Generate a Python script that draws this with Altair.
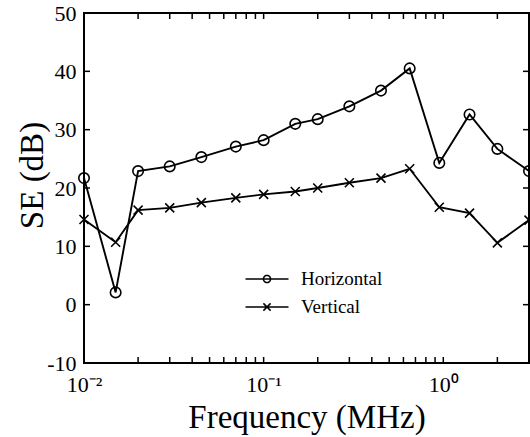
import math
import altair as alt
import pandas as pd

# ---- data ----
freq = [0.01, 0.015, 0.02, 0.03, 0.045, 0.07, 0.1, 0.15, 0.2, 0.3, 0.45, 0.65, 0.95, 1.4, 2, 3]
horizontal = [21.7, 2.1, 22.9, 23.7, 25.3, 27.1, 28.2, 31.0, 31.8, 34.0, 36.7, 40.5, 24.3, 32.6, 26.7, 22.9]
vertical = [14.6, 10.7, 16.2, 16.6, 17.5, 18.3, 18.9, 19.4, 20.0, 20.9, 21.7, 23.3, 16.7, 15.7, 10.6, 14.5]
series_names = ["Horizontal", "Vertical"]
y_ticks = [-10, 0, 10, 20, 30, 40, 50]
x_ticks = [0.01, 0.02, 0.03, 0.04, 0.05, 0.06, 0.07, 0.08, 0.09,
           0.1, 0.2, 0.3, 0.4, 0.5, 0.6, 0.7, 0.8, 0.9, 1, 2, 3]
x_labels = {"0.01": "10⁻²", "0.1": "10⁻¹", "1": "10⁰"}
x_min, x_max = 0.01, 3
y_min, y_max = -10, 50

df = pd.DataFrame({
    "f": freq + freq,
    "se": horizontal + vertical,
    "s": [series_names[0]] * len(freq) + [series_names[1]] * len(freq),
})

FONT = "Liberation Serif"
xscale = alt.Scale(type="log", domain=[x_min, x_max], nice=False)
yscale = alt.Scale(domain=[y_min, y_max], nice=False, zero=False)

label_expr = " : ".join(
    f"datum.value == {k} ? '{v}'" for k, v in x_labels.items()
) + " : ''"

X_PATH = "M-1,-1L1,1M-1,1L1,-1"

# legend symbols (unit = sqrt(symbolSize)/2 px)
def circle_path(r, n=20):
    pts = [(r * math.cos(2 * math.pi * i / n), r * math.sin(2 * math.pi * i / n)) for i in range(n)]
    return "M" + "L".join(f"{x:.3f},{y:.3f}" for x, y in pts) + "Z"

L = 2.15
leg_h = f"M-{L},0L{L},0" + circle_path(0.36)
leg_v = f"M-{L},0L{L},0M-0.36,-0.36L0.36,0.36M-0.36,0.36L0.36,-0.36"

x_bottom = alt.Axis(orient="bottom", values=x_ticks, labelExpr=label_expr,
                    title="Frequency (MHz)", labelFlush=False, labelOverlap=False,
                    domain=False, grid=False, ticks=False,
                    labelPadding=11, titleY=64, titleBaseline="alphabetic")
y_left = alt.Axis(orient="left", values=y_ticks, labelExpr="datum.value + ''",
                  title="SE (dB)", labelPadding=8, titleX=-42, titleY=162,
                  domain=False, grid=False, ticks=False,
                  titleAngle=270, titleAlign="center", titleBaseline="alphabetic",
                  labelOverlap=False)

base = alt.Chart(df)

lines = base.mark_line(color="black", strokeWidth=1.9).encode(
    x=alt.X("f:Q", scale=xscale, axis=x_bottom),
    y=alt.Y("se:Q", scale=yscale, axis=y_left),
    detail="s:N",
)

circles = base.transform_filter(alt.datum.s == series_names[0]).mark_point(
    color="black", filled=False, strokeWidth=1.6, size=110, opacity=1, shape="circle"
).encode(
    x=alt.X("f:Q", scale=xscale, axis=None),
    y=alt.Y("se:Q", scale=yscale, axis=None),
)

crosses = base.transform_filter(alt.datum.s == series_names[1]).mark_point(
    color="black", filled=False, strokeWidth=1.6, size=81, opacity=1, shape=X_PATH
).encode(
    x=alt.X("f:Q", scale=xscale, axis=None),
    y=alt.Y("se:Q", scale=yscale, axis=None),
)

# inward tick marks on all four sides
TICK = dict(color="black", size=6, thickness=1.5, opacity=1)
bottom_ticks = alt.Chart(pd.DataFrame({"f": x_ticks, "v": [y_min] * len(x_ticks)})).mark_tick(
    orient="vertical", yOffset=-3, **TICK).encode(
    x=alt.X("f:Q", scale=xscale, axis=None), y=alt.Y("v:Q", scale=yscale, axis=None))
top_ticks = alt.Chart(pd.DataFrame({"f": x_ticks, "v": [y_max] * len(x_ticks)})).mark_tick(
    orient="vertical", yOffset=3, **TICK).encode(
    x=alt.X("f:Q", scale=xscale, axis=None), y=alt.Y("v:Q", scale=yscale, axis=None))
left_ticks = alt.Chart(pd.DataFrame({"f": [x_min] * len(y_ticks), "v": y_ticks})).mark_tick(
    orient="horizontal", xOffset=3, **TICK).encode(
    x=alt.X("f:Q", scale=xscale, axis=None), y=alt.Y("v:Q", scale=yscale, axis=None))
right_ticks = alt.Chart(pd.DataFrame({"f": [x_max] * len(y_ticks), "v": y_ticks})).mark_tick(
    orient="horizontal", xOffset=-3, **TICK).encode(
    x=alt.X("f:Q", scale=xscale, axis=None), y=alt.Y("v:Q", scale=yscale, axis=None))

legend_layer = base.transform_filter("false").mark_point(
    color="black", filled=False, strokeWidth=1.5, opacity=1
).encode(
    x=alt.X("f:Q", scale=xscale, axis=None),
    y=alt.Y("se:Q", scale=yscale, axis=None),
    shape=alt.Shape(
        "s:N",
        scale=alt.Scale(domain=series_names, range=[leg_h, leg_v]),
        legend=alt.Legend(
            orient="none", legendX=172, legendY=255, title=None,
            labelFont=FONT, labelFontSize=19, labelColor="black",
            labelOffset=23, rowPadding=7, padding=0,
            symbolSize=400, symbolStrokeWidth=1.5, symbolStrokeColor="black",
            symbolFillColor="transparent", symbolOpacity=1,
        ),
    ),
)

chart = alt.layer(
    bottom_ticks, top_ticks, left_ticks, right_ticks, lines, circles, crosses, legend_layer
).resolve_axis(x="independent", y="independent").properties(
    width=445, height=350,
    autosize=alt.AutoSizeParams(type="none"),
    padding={"left": 84, "top": 13, "right": 1, "bottom": 74},
    background="white",
).configure_view(stroke="black", strokeWidth=2).configure_axis(
    labelFont=FONT, labelFontSize=22, labelColor="black",
    titleFont=FONT, titleFontSize=33, titleFontWeight="normal", titleColor="black",
)

chart.save("out.html", embed_options={"renderer": "svg", "actions": False})
